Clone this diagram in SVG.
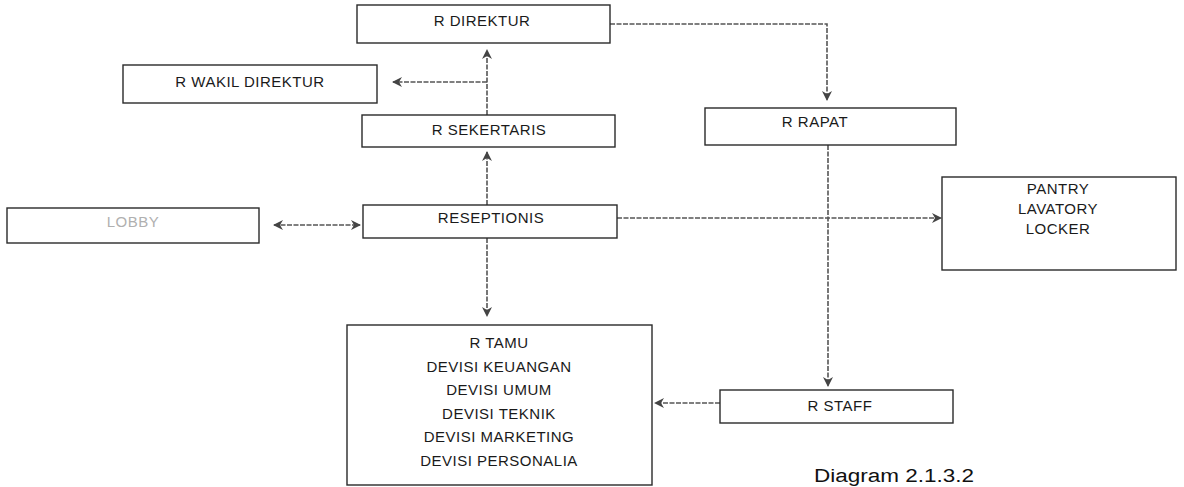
<svg xmlns="http://www.w3.org/2000/svg" width="1184" height="487" viewBox="0 0 1184 487">
<style>
.box{fill:#fff;stroke:#2a2a2a;stroke-width:1.4}
.t{font-family:"Liberation Sans",Arial,sans-serif;font-size:15px;fill:#1a1a1a;text-anchor:middle;letter-spacing:0.5px}
.faint{fill:#b0b0b0}
.c{fill:none;stroke:#555;stroke-width:1.6;stroke-dasharray:5 1.5}
.title{font-family:"Liberation Sans",Arial,sans-serif;font-size:18px;fill:#111}
</style>
<defs>
<marker id="ah" viewBox="0 0 10 10" refX="9" refY="5" markerWidth="10" markerHeight="10" markerUnits="userSpaceOnUse" orient="auto-start-reverse">
<path d="M0 0 L10 5 L0 10 L3 5 Z" fill="#444"/>
</marker>
</defs>
<rect width="1184" height="487" fill="#fff"/>
<g id="connectors">
<path class="c" d="M610 24 H827 V100" marker-end="url(#ah)"/>
<path class="c" d="M487 115 V50" marker-end="url(#ah)"/>
<path class="c" d="M487 82 H393" marker-end="url(#ah)"/>
<path class="c" d="M487 205 V152" marker-end="url(#ah)"/>
<path class="c" d="M274 225 H360" marker-start="url(#ah)" marker-end="url(#ah)"/>
<path class="c" d="M617 218 H941" marker-end="url(#ah)"/>
<path class="c" d="M487 238 V316" marker-end="url(#ah)"/>
<path class="c" d="M828 145 V386" marker-end="url(#ah)"/>
<path class="c" d="M720 403 H655" marker-end="url(#ah)"/>
</g>
<g id="r-direktur"><rect class="box" x="357" y="5" width="253" height="38"/><text class="t" x="482" y="26">R DIREKTUR</text></g>
<g id="r-wakil-direktur"><rect class="box" x="123" y="65" width="254" height="38"/><text class="t" x="250" y="87">R WAKIL DIREKTUR</text></g>
<g id="r-sekertaris"><rect class="box" x="362" y="115" width="253" height="32"/><text class="t" x="489" y="135">R SEKERTARIS</text></g>
<g id="reseptionis"><rect class="box" x="363" y="205" width="254" height="33"/><text class="t" x="491" y="223">RESEPTIONIS</text></g>
<g id="lobby"><rect class="box" x="7" y="208" width="252" height="35"/><text class="t faint" x="133" y="227">LOBBY</text></g>
<g id="r-rapat"><rect class="box" x="705" y="108" width="251" height="37"/><text class="t" x="815" y="127">R RAPAT</text></g>
<g id="pantry"><rect class="box" x="942" y="177" width="234" height="93"/><text class="t" x="1058" y="194">PANTRY</text><text class="t" x="1058" y="214">LAVATORY</text><text class="t" x="1058" y="234">LOCKER</text></g>
<g id="r-tamu"><rect class="box" x="347" y="325" width="305" height="160"/>
<text class="t" x="499" y="348">R TAMU</text>
<text class="t" x="499" y="371.5">DEVISI KEUANGAN</text>
<text class="t" x="499" y="395">DEVISI UMUM</text>
<text class="t" x="499" y="418.5">DEVISI TEKNIK</text>
<text class="t" x="499" y="442">DEVISI MARKETING</text>
<text class="t" x="499" y="465.5">DEVISI PERSONALIA</text></g>
<g id="r-staff"><rect class="box" x="720" y="390" width="233" height="33"/><text class="t" x="840" y="411">R STAFF</text></g>
<text class="title" x="814" y="482" textLength="160" lengthAdjust="spacingAndGlyphs">Diagram 2.1.3.2</text>
</svg>
